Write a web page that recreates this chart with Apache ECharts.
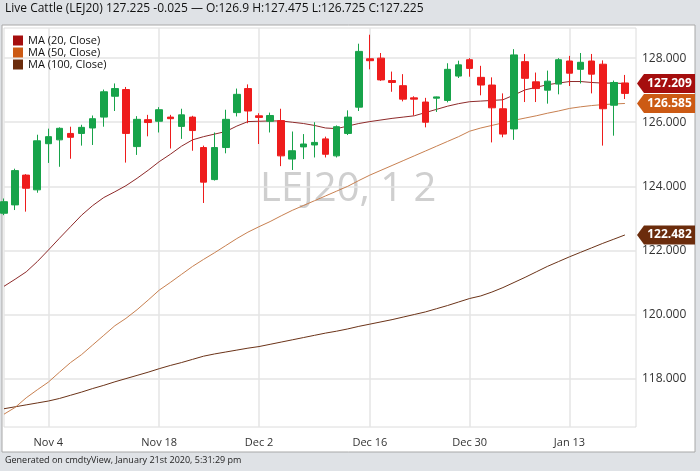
<!DOCTYPE html>
<html><head><meta charset="utf-8">
<script src="https://cdn.jsdelivr.net/npm/echarts@6/dist/echarts.min.js"></script>
<style>html,body{margin:0;padding:0;background:#dfe2e6}#c{width:700px;height:471px}</style>
</head><body><div id="c"></div>
<script>
const dates = ['Oct 29','Oct 30','Oct 31','Nov 1','Nov 4','Nov 5','Nov 6','Nov 7','Nov 8','Nov 11','Nov 12','Nov 13','Nov 14','Nov 15','Nov 18','Nov 19','Nov 20','Nov 21','Nov 22','Nov 25','Nov 26','Nov 27','Nov 29','Dec 2','Dec 3','Dec 4','Dec 5','Dec 6','Dec 9','Dec 10','Dec 11','Dec 12','Dec 13','Dec 16','Dec 17','Dec 18','Dec 19','Dec 20','Dec 23','Dec 24','Dec 26','Dec 27','Dec 30','Dec 31','Jan 2','Jan 3','Jan 6','Jan 7','Jan 8','Jan 9','Jan 10','Jan 13','Jan 14','Jan 15','Jan 16','Jan 17','Jan 21',''];
const shownLabels = ['Nov 4','Nov 18','Dec 2','Dec 16','Dec 30','Jan 13'];
// [open, close, low, high]
const ohlc = [
[123.16,123.52,123.10,123.62],[123.42,124.49,123.26,124.55],[124.35,123.94,123.21,124.38],[123.89,125.42,123.80,125.61],
[125.33,125.55,124.73,125.80],[125.45,125.81,124.61,125.84],[125.65,125.53,124.86,125.86],[125.65,125.84,125.27,125.92],
[125.82,126.11,125.29,126.21],[126.16,126.95,125.86,127.02],[126.81,127.05,126.35,127.21],[127.02,125.65,124.74,127.10],
[125.24,126.09,124.98,126.19],[126.08,125.99,125.56,126.23],[126.03,126.39,125.68,126.47],[126.16,126.11,125.18,126.23],
[125.87,126.23,125.48,126.42],[126.16,125.74,125.11,126.20],[125.21,124.13,123.48,125.27],[124.21,125.21,124.18,125.68],
[125.21,126.09,125.03,126.39],[126.30,126.87,126.18,127.05],[127.05,126.35,125.97,127.18],[126.20,126.15,125.32,126.28],
[126.03,126.21,125.68,126.30],[126.05,124.95,124.63,126.42],[124.85,125.11,124.51,125.71],[125.23,125.32,124.85,125.63],
[125.29,125.37,124.90,126.00],[125.48,125.00,124.90,125.55],[124.95,125.86,124.90,125.90],[125.65,126.16,125.60,126.37],
[126.47,128.21,126.35,128.45],[127.98,127.92,127.65,128.73],[128.00,127.32,127.29,128.16],[127.30,127.24,126.95,127.58],
[127.14,126.72,126.65,127.50],[126.76,126.72,126.21,126.81],[126.63,126.00,125.84,126.76],[126.75,126.79,126.32,126.80],
[126.68,127.65,126.62,127.84],[127.44,127.79,127.38,127.92],[127.95,127.68,127.42,128.00],[127.40,127.16,126.84,127.76],
[127.16,126.45,125.37,127.40],[126.42,125.63,125.53,126.90],[125.79,128.10,125.45,128.28],[127.89,127.37,126.63,128.13],
[127.26,127.05,126.63,127.55],[127.00,127.28,126.58,127.61],[127.19,127.95,126.87,128.00],[127.91,127.53,127.13,128.07],
[127.65,127.87,127.21,128.16],[127.91,127.50,126.90,128.13],[127.81,126.42,125.27,127.93],[126.53,127.24,125.58,127.30],
[126.90,127.225,126.725,127.475]
];
const redOverride = [56];
const ma20 = [120.88,121.1,121.33,121.65,122.01,122.38,122.74,123.1,123.4,123.65,123.83,124.02,124.25,124.5,124.77,125.0,125.25,125.45,125.55,125.63,125.71,125.88,126.02,126.03,126.04,126.04,126.0,125.96,125.9,125.82,125.8,125.88,125.96,126.02,126.07,126.12,126.16,126.2,126.3,126.4,126.5,126.58,126.64,126.66,126.68,126.70,126.85,127.01,127.09,127.17,127.22,127.27,127.27,127.24,127.22,127.22,127.209];
const ma50 = [116.89,117.1,117.4,117.65,117.89,118.2,118.5,118.75,119.05,119.35,119.65,119.88,120.15,120.45,120.76,121.0,121.25,121.5,121.72,121.93,122.15,122.37,122.57,122.74,122.9,123.08,123.25,123.4,123.55,123.7,123.85,124.0,124.18,124.35,124.5,124.65,124.8,124.95,125.1,125.25,125.4,125.55,125.72,125.82,125.9,125.98,126.06,126.13,126.2,126.28,126.35,126.43,126.48,126.52,126.55,126.57,126.585];
const ma100 = [117.06,117.12,117.18,117.24,117.30,117.38,117.48,117.58,117.69,117.79,117.9,118.0,118.1,118.2,118.31,118.41,118.5,118.6,118.7,118.77,118.83,118.89,118.95,119.0,119.07,119.14,119.21,119.28,119.35,119.42,119.48,119.55,119.63,119.70,119.77,119.84,119.92,120.0,120.08,120.18,120.28,120.39,120.50,120.58,120.7,120.84,121.0,121.16,121.33,121.5,121.65,121.80,121.94,122.08,122.22,122.35,122.482];
const yTicks = [118,120,122,124,126,128];

const UP='#17a34a', DOWN='#ee1c1c';
const candleData = ohlc.map((d,i)=> redOverride.includes(i) ? {value:d,itemStyle:{color:DOWN,borderColor:DOWN,color0:DOWN,borderColor0:DOWN}} : d);
function maSeries(name,data,color,tag){
  return {name,type:'line',data,symbol:'none',lineStyle:{width:1,color},itemStyle:{color:tag},z:3};
}
const chart = echarts.init(document.getElementById('c'));
const baseGraphic = [
    {type:'rect',shape:{x:2,y:25,width:693,height:427},style:{fill:'#fff',stroke:'#a8a8a8',lineWidth:1},z:-10},
    {type:'text',left:5,top:3,style:{text:'Live Cattle (LEJ20) 127.225 -0.025 — O:126.9 H:127.475 L:126.725 C:127.225',fontSize:12,fill:'#111',fontFamily:'Open Sans'}},
    {type:'text',left:5,top:456,style:{text:'Generated on cmdtyView, January 21st 2020, 5:31:29 pm',fontSize:9,fill:'#222',fontFamily:'Open Sans'}},
    {type:'text',left:260,top:170,style:{text:'LEJ20, 1 2',fontSize:40,fill:'#cfcfcf',fontFamily:'Open Sans'},z:-5}
];
chart.setOption({
  animation:false,
  backgroundColor:'#dfe2e6',
  textStyle:{fontFamily:'Open Sans'},
  graphic:baseGraphic,
  legend:{orient:'vertical',left:8,top:30,itemGap:1,itemWidth:10,itemHeight:10,icon:'rect',
    textStyle:{fontSize:11,color:'#111'},data:['MA (20, Close)','MA (50, Close)','MA (100, Close)']},
  grid:{left:4,right:64,top:28,bottom:44,show:true,borderColor:'#dcdcdc',backgroundColor:'transparent'},
  xAxis:{type:'category',data:dates,boundaryGap:false,
    axisLine:{show:false},axisTick:{show:false},
    axisLabel:{interval:(i,v)=>shownLabels.includes(v),color:'#333',fontSize:11,margin:10},
    splitLine:{show:true,interval:(i,v)=>shownLabels.includes(v),lineStyle:{color:'#e4e4e4',width:1.5}}},
  yAxis:{type:'value',position:'right',min:116.49,max:128.94,scale:true,
    axisLine:{show:false},
    axisTick:{show:false,customValues:yTicks},
    axisLabel:{customValues:yTicks,formatter:v=>v.toFixed(3),color:'#333',fontSize:12,margin:6},
    splitLine:{show:true,lineStyle:{color:'#e4e4e4',width:1.5}}},
  series:[
    maSeries('MA (100, Close)',ma100,'#6b3318','#6b2c0c'),
    maSeries('MA (50, Close)',ma50,'#c88050','#cc5a14'),
    maSeries('MA (20, Close)',ma20,'#8e2a2a','#a50e0e'),
    {type:'candlestick',data:candleData,barWidth:'64%',z:4,
      itemStyle:{color:UP,color0:DOWN,borderColor:UP,borderColor0:DOWN,borderWidth:1}}
  ]
});
// price tags at the right axis, placed through the chart's own y scale
const tags = [[ma20,'#a50e0e'],[ma50,'#cc5a14'],[ma100,'#6b2c0c']];
const tagGraphics = [];
tags.forEach(([arr,col])=>{
  const v = arr[arr.length-1];
  const y = chart.convertToPixel({yAxisIndex:0}, v);
  const x0 = 637, x1 = 695, h = 9.5;
  tagGraphics.push({type:'polygon',shape:{points:[[x0,y],[x0+7,y-h],[x1,y-h],[x1,y+h],[x0+7,y+h]]},style:{fill:col},z:20});
  tagGraphics.push({type:'text',x:(x0+7+x1)/2,y:y,style:{text:v.toFixed(3),fill:'#fff',fontSize:12,fontWeight:'bold',align:'center',verticalAlign:'middle',fontFamily:'Open Sans'},z:21});
});
chart.setOption({graphic:baseGraphic.concat(tagGraphics)});
</script></body></html>
